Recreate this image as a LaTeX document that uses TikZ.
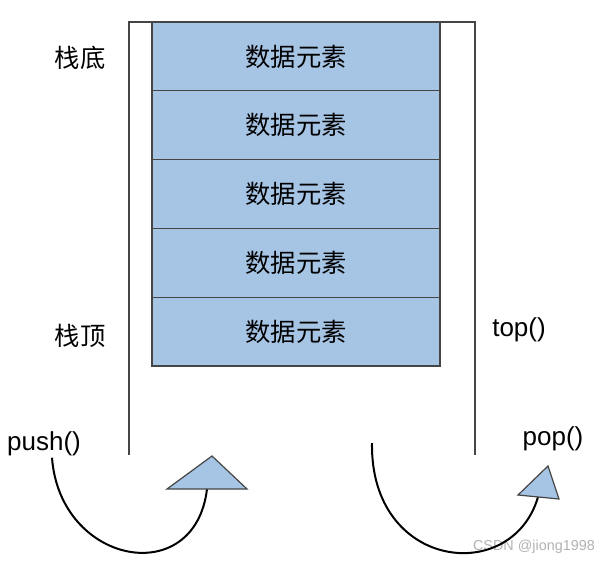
\documentclass[tikz,border=0pt]{standalone}
\usepackage{fontspec}
\setmainfont{Liberation Sans}
\newfontfamily\cjk{Noto Sans CJK SC}
\definecolor{bleu}{HTML}{A6C4E4}
\definecolor{gris}{HTML}{454545}
\tikzset{
	elem/.style={rectangle,draw=gris,fill=bleu,line width=0.9pt,minimum width=216pt,minimum height=51.6pt,font=\cjk\fontsize{19}{22}\selectfont},
	etiq/.style={font=\fontsize{19.5}{22}\selectfont},
	fleche/.style={draw=gris,fill=bleu,line width=0.9pt,line join=miter}
}
\begin{document}
\begin{tikzpicture}[x=0.75pt,y=-0.75pt]
		\useasboundingbox (0,0) rectangle (610,564);
		% Les parois de la pile
		\draw[gris,line width=1.1pt] (129,455) -- (129,22) -- (475,22) -- (475,455);
		
		% Les éléments empilés
		\node[elem] (1) at (296,56.4) {数据元素};
		\node[elem] (2) at (296,125.2) {数据元素};
		\node[elem] (3) at (296,194) {数据元素};
		\node[elem] (4) at (296,262.8) {数据元素};
		\node[elem] (5) at (296,331.6) {数据元素};
		
		% Les étiquettes
		\node[etiq,font=\cjk\fontsize{19}{22}\selectfont] (bas) at (80,58) {栈底};
		\node[etiq,font=\cjk\fontsize{19}{22}\selectfont] (haut) at (80,336) {栈顶};
		\node[etiq] (top) at (519,330) {top()};
		\node[etiq,inner sep=1pt] (push) at (44,444) {push()};
		\node[etiq] (pop) at (553,439) {pop()};
		\node[text=gray!60,font=\fontsize{10.8}{12}\selectfont] (marque) at (534,547) {CSDN @jiong1998};
		
		% Les flèches
		\coordinate (fin1) at (207,489);
		\coordinate (deb2) at (372,443);
		\coordinate (fin2) at (538,497);
		\draw[line width=1.5pt] (push.south -| 52,0) .. controls (60,565) and (195,590) .. (fin1);
		\draw[line width=1.5pt] (deb2) .. controls (370,570) and (512,586) .. (fin2);
		\draw[fleche] (167,489) -- (212,456) -- (247,489) -- cycle;
		\draw[fleche] (518,495) -- (548,466) -- (559,499) -- cycle;
	\end{tikzpicture}
\end{document}
